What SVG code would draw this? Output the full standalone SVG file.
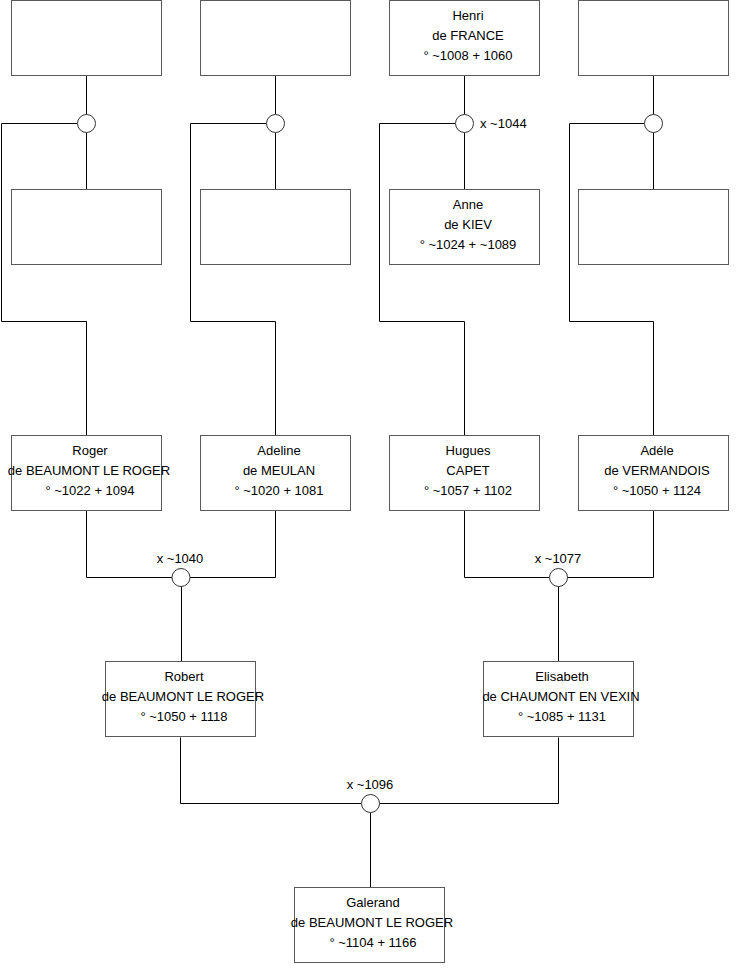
<svg xmlns="http://www.w3.org/2000/svg" width="740" height="975" viewBox="0 0 740 975">
<style>
.box{fill:#fff;stroke:#5a5a5a;stroke-width:1}
.ln{fill:none;stroke:#000;stroke-width:1}
.m{fill:#fff;stroke:#333;stroke-width:1}
text{font-family:"Liberation Sans",Arial,sans-serif;font-size:13px;fill:#000}
.c{text-anchor:middle}
</style>
<rect width="740" height="975" fill="#fff"/>
<g id="connectors">
<path class="ln" d="M86.5,76V114.5M86.5,132.5V189.5M77.5,123.5H1.5V321.5H86.5V435.5"/>
<path class="ln" d="M275.5,76V114.5M275.5,132.5V189.5M266.5,123.5H190.5V321.5H275.5V435.5"/>
<path class="ln" d="M464.5,76V114.5M464.5,132.5V189.5M455.5,123.5H379.5V321.5H464.5V435.5"/>
<path class="ln" d="M653.5,76V114.5M653.5,132.5V189.5M644.5,123.5H569.5V321.5H653.5V435.5"/>
<path class="ln" d="M86.5,510.5V577.5H172M190,577.5H275.5V510.5M181.5,586V661.5"/>
<path class="ln" d="M464.5,510.5V577.5H549M567,577.5H653.5V510.5M558.5,586V661.5"/>
<path class="ln" d="M180.5,737.5V803.5H361M379,803.5H558.5V737.5M370.5,812V887.5"/>
</g>
<g id="m1"><circle class="m" cx="86.5" cy="123.5" r="9"/></g>
<g id="m2"><circle class="m" cx="275.5" cy="123.5" r="9"/></g>
<g id="m3"><circle class="m" cx="464.5" cy="123.5" r="9"/><text x="480" y="128">x ~1044</text></g>
<g id="m4"><circle class="m" cx="653.5" cy="123.5" r="9"/></g>
<g id="m5"><circle class="m" cx="181" cy="577.5" r="9"/><text class="c" x="180" y="563">x ~1040</text></g>
<g id="m6"><circle class="m" cx="558.5" cy="577.5" r="9"/><text class="c" x="558" y="563">x ~1077</text></g>
<g id="m7"><circle class="m" cx="370.5" cy="803.5" r="9"/><text class="c" x="370" y="789">x ~1096</text></g>
<g id="n1"><rect class="box" x="11.5" y="0.5" width="150" height="75"/></g>
<g id="n2"><rect class="box" x="200.5" y="0.5" width="150" height="75"/></g>
<g id="n3"><rect class="box" x="389.5" y="0.5" width="150" height="75"/><text class="c" x="468" y="20">Henri</text><text class="c" x="468" y="40">de FRANCE</text><text class="c" x="468" y="60">° ~1008 + 1060</text></g>
<g id="n4"><rect class="box" x="578.5" y="0.5" width="150" height="75"/></g>
<g id="n5"><rect class="box" x="11.5" y="189.5" width="150" height="75"/></g>
<g id="n6"><rect class="box" x="200.5" y="189.5" width="150" height="75"/></g>
<g id="n7"><rect class="box" x="389.5" y="189.5" width="150" height="75"/><text class="c" x="468" y="209">Anne</text><text class="c" x="468" y="229">de KIEV</text><text class="c" x="468" y="249">° ~1024 + ~1089</text></g>
<g id="n8"><rect class="box" x="578.5" y="189.5" width="150" height="75"/></g>
<g id="n9"><rect class="box" x="11.5" y="435.5" width="150" height="75"/><text class="c" x="90" y="455">Roger</text><text class="c" x="89" y="475">de BEAUMONT LE ROGER</text><text class="c" x="90" y="495">° ~1022 + 1094</text></g>
<g id="n10"><rect class="box" x="200.5" y="435.5" width="150" height="75"/><text class="c" x="279" y="455">Adeline</text><text class="c" x="279" y="475">de MEULAN</text><text class="c" x="279" y="495">° ~1020 + 1081</text></g>
<g id="n11"><rect class="box" x="389.5" y="435.5" width="150" height="75"/><text class="c" x="468" y="455">Hugues</text><text class="c" x="468" y="475">CAPET</text><text class="c" x="468" y="495">° ~1057 + 1102</text></g>
<g id="n12"><rect class="box" x="578.5" y="435.5" width="150" height="75"/><text class="c" x="657" y="455">Adéle</text><text class="c" x="657" y="475">de VERMANDOIS</text><text class="c" x="657" y="495">° ~1050 + 1124</text></g>
<g id="n13"><rect class="box" x="105.5" y="661.5" width="150" height="75"/><text class="c" x="184" y="681">Robert</text><text class="c" x="183" y="701">de BEAUMONT LE ROGER</text><text class="c" x="184" y="721">° ~1050 + 1118</text></g>
<g id="n14"><rect class="box" x="483.5" y="661.5" width="150" height="75"/><text class="c" x="562" y="681">Elisabeth</text><text class="c" x="561" y="701">de CHAUMONT EN VEXIN</text><text class="c" x="562" y="721">° ~1085 + 1131</text></g>
<g id="n15"><rect class="box" x="294.5" y="887.5" width="150" height="75"/><text class="c" x="373" y="907">Galerand</text><text class="c" x="372" y="927">de BEAUMONT LE ROGER</text><text class="c" x="373" y="947">° ~1104 + 1166</text></g>
</svg>
